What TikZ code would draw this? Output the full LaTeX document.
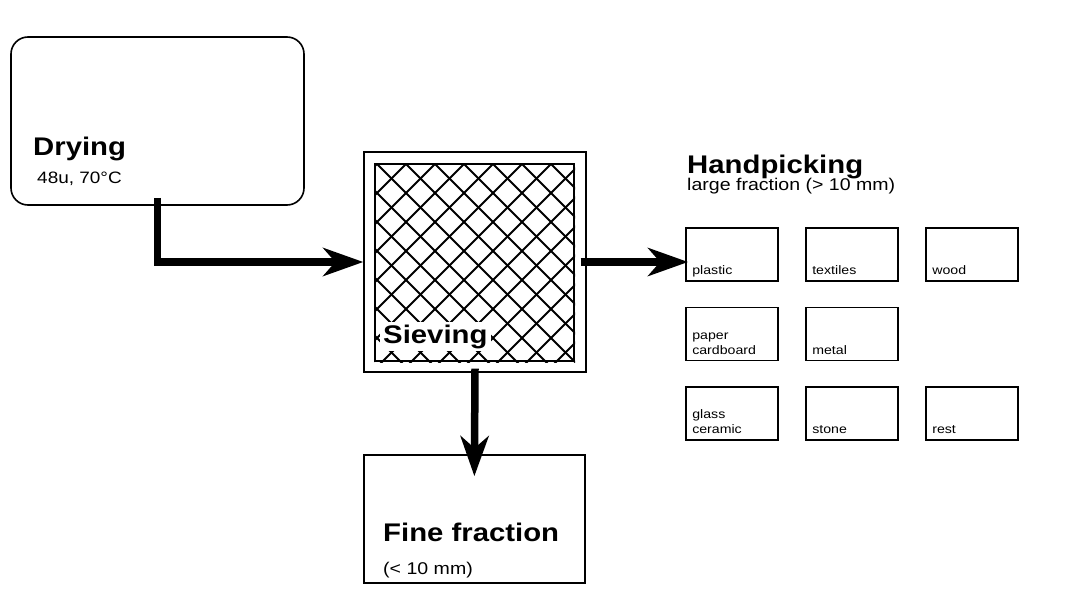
\documentclass[tikz,border=0pt]{standalone}
\usepackage{fontspec}
\setmainfont{Liberation Sans}[FakeStretch=1.15]
\usetikzlibrary{arrows.meta,calc}
\tikzset{
  stage/.style={rectangle, draw=black, line width=1.6pt, inner sep=0pt},
  title/.style={anchor=base west, inner sep=0pt, font=\fontsize{25.5}{30}\selectfont\bfseries},
  subtitle/.style={anchor=base west, inner sep=0pt, font=\fontsize{17}{20}\selectfont},
  binbox/.style={rectangle, draw=black, line width=1.8pt, minimum width=92pt, minimum height=53pt, inner sep=0pt},
  binlabel/.style={anchor=south west, inner sep=0pt, text depth=0pt, align=left, font=\fontsize{12.3}{15}\selectfont, xshift=7pt, yshift=7pt},
  flow/.style={-{Stealth[length=40pt,width=28pt,inset=12pt]}, line width=7.5pt}
}
\begin{document}
\begin{tikzpicture}[x=1pt, y=-1pt]
  \useasboundingbox (0,0) rectangle (1065,599);
  % drying step
  \node[stage, rounded corners=17pt, minimum width=293pt, minimum height=168pt] (drying) at (157.5,121) {};
  \node[title] (dryingtitle) at (33,155) {Drying};
  \node[subtitle, font=\fontsize{16.5}{20}\selectfont] (dryingnote) at (37,183) {48u, 70°C};
  % sieve with its mesh
  \node[stage, line width=1.4pt, minimum width=222pt, minimum height=220pt] (sieve) at (475,262) {};
  \node[stage, line width=2pt, minimum width=199pt, minimum height=197pt] (mesh) at (474.5,262.5) {};
  \begin{scope}
    \clip (mesh.south west) rectangle (mesh.north east);
    \foreach \k in {-8,...,15}
      \draw[line width=1.9pt] (377+29*\k-250,-86) -- ++(500,500)
                              (377+29*\k+250,-86) -- ++(-500,500);
  \end{scope}
  \node[title, fill=white, inner sep=3pt] (sieving) at (380,343) {Sieving};
  % fine fraction
  \node[stage, minimum width=221pt, minimum height=128pt] (fine) at (474.5,519) {};
  \node[title] (finetitle) at (383,541) {Fine fraction};
  \node[subtitle] (finenote) at (383,574) {(< 10 mm)};
  % handpicking bins
  \node[title] (hand) at (687,173) {Handpicking};
  \node[subtitle] (handnote) at (687,190) {large fraction (> 10 mm)};
  \foreach \n/\c/\r/\t in {plastic/0/0/plastic, textiles/1/0/textiles, wood/2/0/wood,
      paper/0/1/{paper\\cardboard}, metal/1/1/metal,
      glass/0/2/{glass\\ceramic}, stone/1/2/stone, rest/2/2/rest} {
    \node[binbox] (\n) at (732+120*\c, 254.5+79.5*\r) {};
    \node[binlabel] at (\n.south west) {\t};
  }
  % flows
  \draw[flow] ([yshift=8pt]drying.south) |- (sieve.west);
  \draw[flow, shorten >=-3pt] ([xshift=-6pt]sieve.east) -- (sieve.east -| plastic.west);
  \draw[flow, shorten >=-22pt] ([yshift=4pt]sieve.south) -- (fine.north);
\end{tikzpicture}
\end{document}
